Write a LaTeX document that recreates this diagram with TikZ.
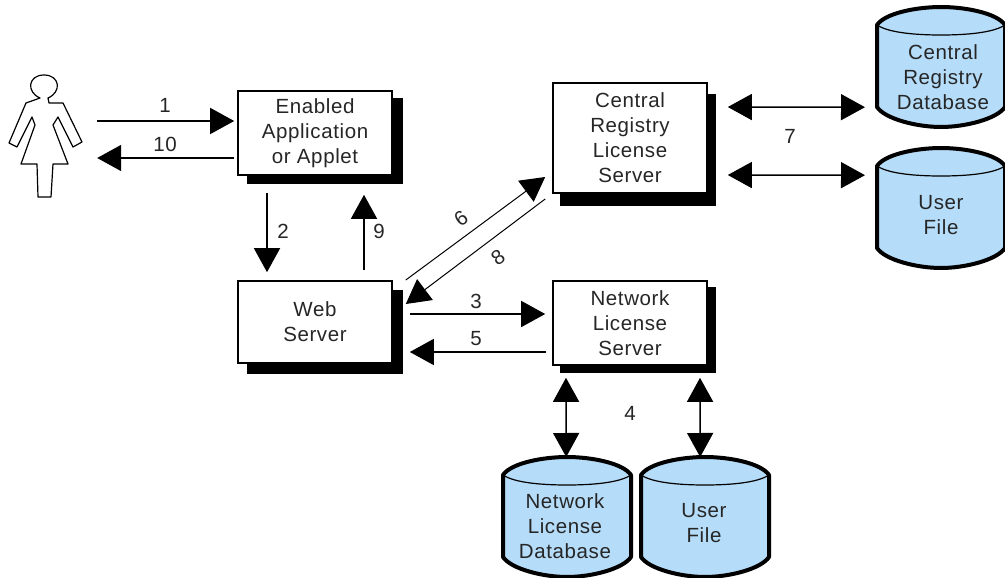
\documentclass[tikz,border=0pt]{standalone}
\usepackage{fontspec}
\setmainfont[LetterSpace=3]{Liberation Sans}
\usetikzlibrary{arrows.meta,shadows}
\definecolor{dbblue}{HTML}{B5DCF8}
\tikzset{
  lbl/.style={font=\fontsize{20.5}{25}\selectfont,inner sep=0pt,align=center,text=black!85},
  srv/.style={draw=black,fill=white,line width=1.6pt,minimum width=154pt,inner sep=0pt,align=center,
    font=\fontsize{20.5}{25}\selectfont,text=black!85},
  shad/.style 2 args={copy shadow={shadow xshift=#1,shadow yshift=#2,fill=black,draw=black,opacity=1}},
  frame/.style={inner sep=0pt,minimum width=128pt,minimum height=120pt},
  arr/.style={-{Triangle[length=24pt,width=26pt]},line width=1.5pt,black},
  arrb/.style={{Triangle[length=24pt,width=26pt]}-{Triangle[length=24pt,width=26pt]},line width=1.5pt,black},
  arrthin/.style={arr,line width=1pt},
}
\newcommand{\dbcyl}[3]{% name, left, top
  \node[frame,anchor=north west] (#1) at (#2,#3) {};
  \begin{scope}[shift={(#2,#3)}]
    \path[fill=dbblue,draw=black,line width=4pt,line join=round]
      (0,18) .. controls (8,6) and (40,0) .. (64,0) .. controls (88,0) and (120,6) .. (128,18)
      -- (128,100) .. controls (120,112) and (88,120) .. (64,120) .. controls (40,120) and (8,112) .. (0,100) -- cycle;
    \draw[line width=1.2pt] (0,18) .. controls (12,26) and (40,28) .. (64,28) .. controls (88,28) and (116,26) .. (128,18);
  \end{scope}
}
\begin{document}
\begin{tikzpicture}[x=1pt,y=-1pt]
\useasboundingbox (0,0) rectangle (1005,578);
\fill[white] (0,0) rectangle (1005,578);

% person
\node[inner sep=0pt,minimum width=74pt,minimum height=124pt] (person) at (45,137) {};
\draw[line width=1.2pt,line join=round]
  (40,98) -- (26,103) -- (9,143) -- (17,147) -- (32,117) -- (35,125) -- (21,164) -- (37,164)
  -- (38,197) -- (51,197) -- (53,164) -- (68,164) -- (53,125) -- (58,117) -- (73,147) -- (82,142)
  -- (63,103) -- (49,103) -- (48,98)
  .. controls (62,92) and (60,75) .. (44,75) .. controls (28,75) and (26,92) .. (40,98) -- cycle;

% boxes
\node[srv,minimum height=84pt,shad={10pt}{-8pt}] (app) at (315,133) {Enabled\\Application\\or Applet};
\node[srv,minimum height=82pt,shad={10pt}{-10pt}] (web) at (315,322) {Web\\Server};
\node[srv,minimum height=110pt,shad={8pt}{-12pt}] (central) at (630,138) {Central\\Registry\\License\\Server};
\node[srv,minimum height=84pt,shad={8pt}{-7pt}] (network) at (630,323) {Network\\License\\Server};

% databases
\dbcyl{centraldb}{877}{7}
\node[lbl] (centraldbt) at (943,77) {Central\\Registry\\Database};
\dbcyl{userfa}{877}{148}
\node[lbl] (userfat) at (941,215) {User\\File};
\dbcyl{netdb}{503}{457}
\node[lbl] (netdbt) at (565,526) {Network\\License\\Database};
\dbcyl{userfb}{641}{457}
\node[lbl] (userfbt) at (704,523) {User\\File};

% connectors
\draw[arr] ([xshift=15pt,yshift=16pt]person.east) -- ([xshift=-3pt,yshift=12pt]app.west);
\draw[arr] ([xshift=-3pt,yshift=-25pt]app.west) -- ([xshift=15pt,yshift=-21pt]person.east);
\draw[arr] ([xshift=-48pt,yshift=-17pt]app.south) -- ([xshift=-48pt,yshift=8pt]web.north);
\draw[arr] ([xshift=49pt,yshift=10pt]web.north) -- ([xshift=49pt,yshift=-19pt]app.south);
\draw[arrthin] ([xshift=13pt,yshift=42pt]web.east) -- ([xshift=-7pt,yshift=-39pt]central.west);
\draw[arrthin] ([xshift=-7pt,yshift=-61pt]central.west) -- ([xshift=13pt,yshift=18pt]web.east);
\draw[arr] ([xshift=17pt,yshift=8pt]web.east) -- ([xshift=-7pt,yshift=9pt]network.west);
\draw[arr] ([xshift=-6pt,yshift=-29pt]network.west) -- ([xshift=17pt,yshift=-30pt]web.east);
\draw[arrb] ([xshift=20pt,yshift=31pt]central.east) -- ([xshift=-12pt,yshift=-40pt]centraldb.west);
\draw[arrb] ([xshift=20pt,yshift=-37pt]central.east) -- ([xshift=-12pt,yshift=33pt]userfa.west);
\draw[arrb] ([xshift=-64pt,yshift=-12pt]network.south) -- ([xshift=-1pt]netdb.north);
\draw[arrb] ([xshift=70pt,yshift=-12pt]network.south) -- ([xshift=-5pt]userfb.north);

% labels
\node[lbl] (n1) at (165,105) {1};
\node[lbl] (n10) at (165,144) {10};
\node[lbl] (n2) at (283,231) {2};
\node[lbl] (n9) at (379,231) {9};
\node[lbl,rotate=35] (n6) at (461,218) {6};
\node[lbl,rotate=35] (n8) at (498,257) {8};
\node[lbl] (n3) at (476,301) {3};
\node[lbl] (n5) at (476,339) {5};
\node[lbl] (n7) at (790,136) {7};
\node[lbl] (n4) at (630,413) {4};
\end{tikzpicture}
\end{document}
